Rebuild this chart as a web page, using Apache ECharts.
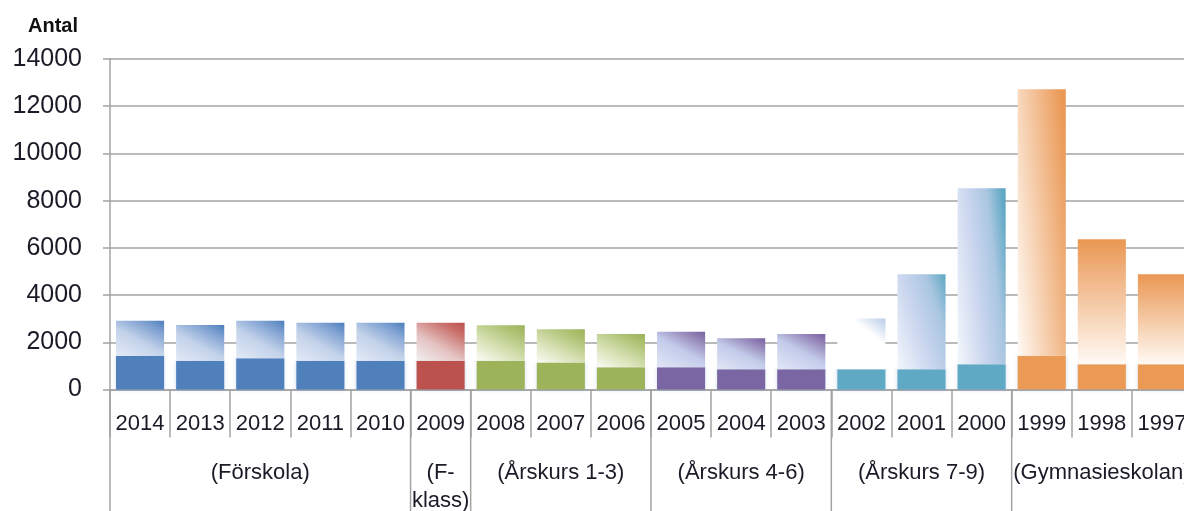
<!DOCTYPE html>
<html><head><meta charset="utf-8">
<script src="https://cdn.jsdelivr.net/npm/echarts@6/dist/echarts.min.js"></script>
<style>html,body{margin:0;padding:0;background:#fff;overflow:hidden;}#c{width:1192px;height:511px;}</style>
</head><body><div id="c"></div>
<script>
// ---- data ----
const years = ['2014','2013','2012','2011','2010','2009','2008','2007','2006','2005','2004','2003','2002','2001','2000','1999','1998','1997'];
const baseValues = [1420,1220,1320,1220,1220,1220,1220,1140,940,940,860,860,860,860,1070,1430,1070,1070];
const restValues = [1495,1510,1595,1610,1610,1610,1500,1410,1410,1510,1310,1490,2150,4020,7450,11290,5290,3810];
const groupNames = ['(Förskola)','(F-\nklass)','(Årskurs 1-3)','(Årskurs 4-6)','(Årskurs 7-9)','(Gymnasieskolan)'];
const groupSizes = [5,1,3,3,3,3];
const yMin = 0, yMax = 14000, yInterval = 2000;
const yTitle = 'Antal';

// ---- styles ----
const groupColors = ['#4f80bc','#bb524e','#9db35a','#7b66a4','#5fa9c4','#eb9a55'];
const groupStops = [
  [[0,'#e3eaf6'],[0.45,'#c3d2ea'],[0.8,'#7c9fd0'],[1,'#4d7ebb']],
  [[0,'#f1efef'],[0.4,'#e4c4c3'],[0.8,'#c96e6a'],[1,'#bb504c']],
  [[0,'#fbfcf6'],[0.4,'#d6e1b4'],[0.8,'#adc172'],[1,'#9cb258']],
  [[0,'#e2e7f6'],[0.5,'#c3cbea'],[0.85,'#8f7db2'],[1,'#7763a2']],
  [[0,'#f3f6fc'],[0.45,'#c9d5ee'],[0.75,'#aac6e1'],[1,'#5ea8c3']],
  [[0,'#fffaf5'],[1,'#ea9753']]
];
const stops2002 = [[0,'#ffffff'],[0.7,'#ffffff'],[1,'#b7cbe7']];
// gradient weights per bar: [horizontal weight, vertical weight]
const barWeights = years.map(y => ({'2001':[0.6,0.4],'2000':[0.75,0.3],'1999':[0.7,0.35],'1998':[0,1],'1997':[0,1]}[y] || [0.42,0.58]));

const groupOf = [];
groupSizes.forEach((n,g)=>{ for(let k=0;k<n;k++) groupOf.push(g); });

const chart = echarts.init(document.getElementById('c'));
const gray = '#a3a3a3';
const font = '"Liberation Sans", Arial, sans-serif';

const baseData = baseValues.map((v,i)=>({value:v, itemStyle:{color:groupColors[groupOf[i]]}}));

chart.setOption({
  animation:false,
  grid:{left:110, top:59, bottom:121.5, right:0, containLabel:false},
  xAxis:{type:'category', data:years,
    axisLine:{lineStyle:{color:gray,width:1.5}},
    axisTick:{show:true,length:48,interval:0,lineStyle:{color:gray,width:1.5}},
    axisLabel:{interval:0,margin:23,fontSize:22,fontFamily:font,color:'#1b1b28'}},
  yAxis:{type:'value', min:yMin, max:yMax, interval:yInterval,
    axisLine:{show:true,lineStyle:{color:gray,width:1.5}},
    axisTick:{show:true,length:7,lineStyle:{color:gray,width:1.5}},
    splitLine:{lineStyle:{color:gray,width:1.5}},
    axisLabel:{margin:28,fontSize:25,fontFamily:font,color:'#1b1b28',formatter:v=>String(v)}},
  series:[
    {type:'bar', stack:'s', barWidth:'80%', data:baseData,
     itemStyle:{shadowBlur:4,shadowColor:'rgba(120,155,210,0.35)'}},
    {type:'bar', stack:'s', barWidth:'80%', data:restValues,
     itemStyle:{shadowBlur:5,shadowColor:'rgba(120,155,210,0.4)'}}
  ]
});

// pixel geometry through the axes
const c0 = chart.convertToPixel({xAxisIndex:0}, 0);
const bw = chart.convertToPixel({xAxisIndex:0}, 1) - c0;
const yZero = chart.convertToPixel({yAxisIndex:0}, 0);
const H = chart.getHeight();

// gradients for the upper segments
const restData = restValues.map((v,i)=>{
  const w = bw*0.8;
  const h = chart.convertToPixel({yAxisIndex:0}, baseValues[i]) - chart.convertToPixel({yAxisIndex:0}, baseValues[i]+v);
  const [a,b] = barWeights[i];
  const k = 1/(a*a/(w*w) + b*b/(h*h));
  const x2 = k*a/(w*w), y2 = 1 - k*b/(h*h);
  const st = (years[i]==='2002' ? stops2002 : groupStops[groupOf[i]]).map(s=>({offset:s[0],color:s[1]}));
  return {value:v, itemStyle:{color:new echarts.graphic.LinearGradient(0,1,x2,y2,st)}};
});

const elems = [];
let start = 0;
groupSizes.forEach((n,g)=>{
  const xl = c0 - bw/2 + start*bw;
  const xr = xl + n*bw;
  elems.push({type:'line', silent:true, shape:{x1:xl,y1:yZero,x2:xl,y2:H}, style:{stroke:gray,lineWidth:1.5}});
  elems.push({type:'text', silent:true, x:(xl+xr)/2, y:yZero+69,
    style:{text:groupNames[g], align:'center', verticalAlign:'top', lineHeight:28,
           font:'22px '+font, fill:'#1b1b28'}});
  start += n;
});
elems.push({type:'text', silent:true, x:28, y:26,
  style:{text:yTitle, align:'left', verticalAlign:'middle', font:'bold 20px '+font, fill:'#111'}});
chart.setOption({series:[{},{data:restData}], graphic:{elements:elems}});
</script></body></html>
